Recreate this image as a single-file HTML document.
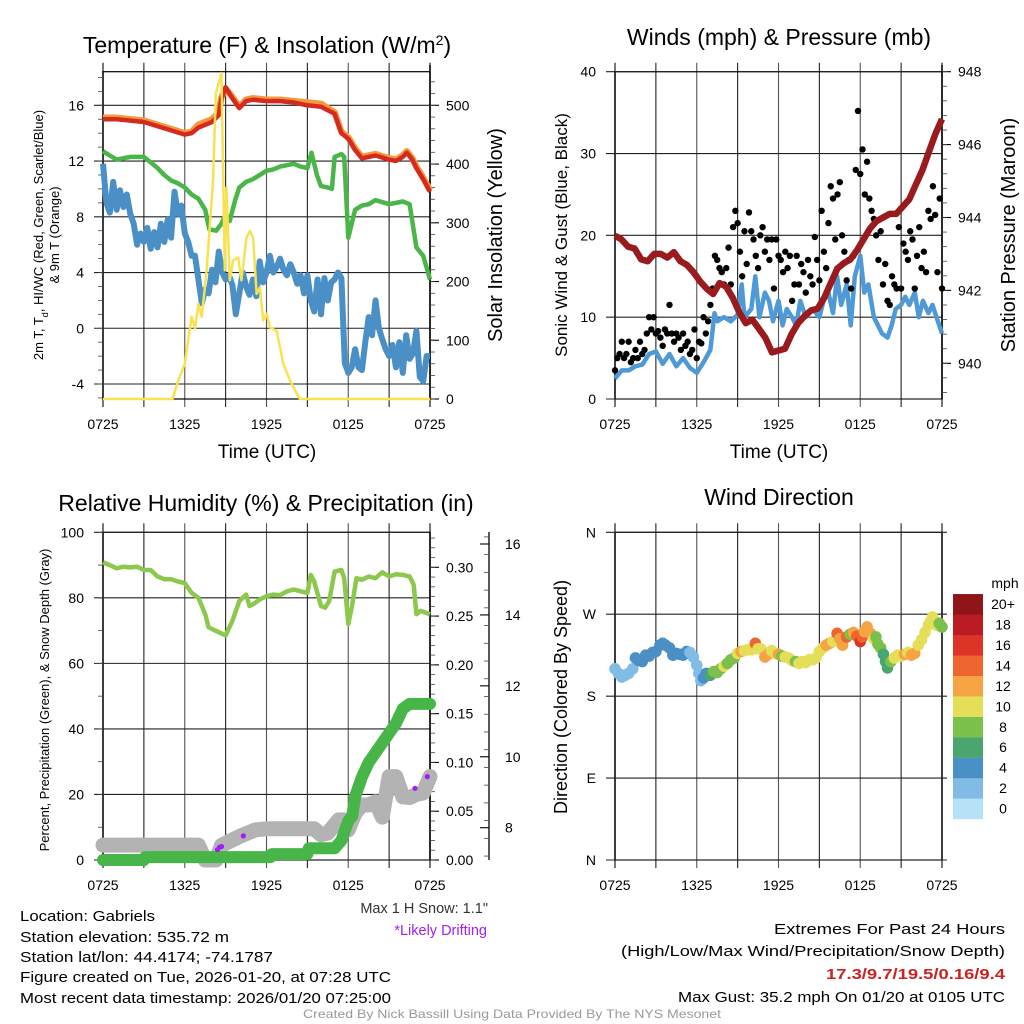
<!DOCTYPE html>
<html><head><meta charset="utf-8"><title>Gabriels Mesonet Meteogram</title>
<style>
html,body{margin:0;padding:0;background:#fff;}
svg{display:block;font-family:"Liberation Sans",sans-serif;}
</style></head>
<body>
<svg id="chart" width="1024" height="1024" viewBox="0 0 1024 1024" xmlns="http://www.w3.org/2000/svg">
<rect x="0" y="0" width="1024" height="1024" fill="#fff"/>
<text x="267" y="53" font-size="23" text-anchor="middle">Temperature (F) &amp; Insolation (W/m<tspan baseline-shift="super" font-size="14">2</tspan>)</text>
<text x="779" y="45" font-size="23" text-anchor="middle">Winds (mph) &amp; Pressure (mb)</text>
<text x="266" y="511" font-size="23" text-anchor="middle">Relative Humidity (%) &amp; Precipitation (in)</text>
<text x="779" y="505" font-size="23" text-anchor="middle">Wind Direction</text>
<text x="267" y="458" font-size="19" text-anchor="middle">Time (UTC)</text>
<text x="779" y="458" font-size="19" text-anchor="middle">Time (UTC)</text>
<text transform="translate(43,235) rotate(-90)" font-size="13" text-anchor="middle">2m T, T<tspan baseline-shift="sub" font-size="9">d</tspan>, HI/WC (Red, Green, Scarlet/Blue)</text>
<text transform="translate(59,235) rotate(-90)" font-size="13" text-anchor="middle">&amp; 9m T (Orange)</text>
<text transform="translate(502,235) rotate(-90)" font-size="20" text-anchor="middle">Solar Insolation (Yellow)</text>
<text transform="translate(567,235) rotate(-90)" font-size="17" text-anchor="middle">Sonic Wind &amp; Gust (Blue, Black)</text>
<text transform="translate(1015,235) rotate(-90)" font-size="20" text-anchor="middle">Station Pressure (Maroon)</text>
<text transform="translate(49,700) rotate(-90)" font-size="13" text-anchor="middle">Percent, Precipitation (Green), &amp; Snow Depth (Gray)</text>
<text transform="translate(567,697) rotate(-90)" font-size="18" text-anchor="middle">Direction (Colored By Speed)</text>
<text x="1005" y="588" font-size="14" text-anchor="middle">mph</text>
<text x="488" y="913" font-size="14.5" fill="#333" text-anchor="end">Max 1 H Snow: 1.1"</text>
<text x="487" y="935" font-size="14.5" fill="#a020f0" text-anchor="end">*Likely Drifting</text>
<text x="20" y="921" font-size="15" textLength="135" lengthAdjust="spacingAndGlyphs">Location: Gabriels</text>
<text x="20" y="942" font-size="15" textLength="209" lengthAdjust="spacingAndGlyphs">Station elevation: 535.72 m</text>
<text x="20" y="962" font-size="15" textLength="253" lengthAdjust="spacingAndGlyphs">Station lat/lon: 44.4174; -74.1787</text>
<text x="20" y="982" font-size="15" textLength="371" lengthAdjust="spacingAndGlyphs">Figure created on Tue, 2026-01-20, at 07:28 UTC</text>
<text x="20" y="1003" font-size="15" textLength="371" lengthAdjust="spacingAndGlyphs">Most recent data timestamp: 2026/01/20 07:25:00</text>
<text x="1005" y="934" font-size="15" text-anchor="end" textLength="231" lengthAdjust="spacingAndGlyphs">Extremes For Past 24 Hours</text>
<text x="1005" y="956" font-size="15" text-anchor="end" textLength="384" lengthAdjust="spacingAndGlyphs">(High/Low/Max Wind/Precipitation/Snow Depth)</text>
<text x="1005" y="979" font-size="15" font-weight="bold" fill="#cc2222" text-anchor="end" textLength="179" lengthAdjust="spacingAndGlyphs">17.3/9.7/19.5/0.16/9.4</text>
<text x="1005" y="1002" font-size="15" text-anchor="end" textLength="327" lengthAdjust="spacingAndGlyphs">Max Gust: 35.2 mph On 01/20 at 0105 UTC</text>
<text x="512" y="1018" font-size="12" fill="#999" text-anchor="middle" textLength="418" lengthAdjust="spacingAndGlyphs">Created By Nick Bassill Using Data Provided By The NYS Mesonet</text>
</svg>
<script>
// ---------- data ----------
const timeLabels = ['0725','1325','1925','0125','0725'];
const timeLabelHours = [0,6,12,18,24];
const tempHours = [0,1,2,3,4,5,6,6.5,7,8,8.5,8.7,9,9.5,10,10.5,11,12,13,14,15,16,17,17.5,18,18.5,19,20,21,21.5,22,22.3,22.7,23,23.5,24];
const temp2m = [15.0,15.0,14.9,14.8,14.5,14.2,13.9,14.0,14.4,14.8,15.3,16.5,17.3,16.5,15.8,16.3,16.4,16.3,16.3,16.2,16.0,15.9,15.4,14.0,13.6,12.8,12.2,12.4,12.1,12.0,12.3,12.6,12.1,11.5,10.7,9.8];
const temp9m = [15.1,15.1,15.0,14.9,14.6,14.3,14.0,14.1,14.6,15.0,15.5,16.6,17.2,16.6,15.9,16.4,16.5,16.4,16.4,16.3,16.2,16.1,15.5,14.1,13.7,12.9,12.3,12.5,12.2,12.1,12.4,12.7,12.2,11.6,10.8,9.9];
const dewHours = [0,0.5,1,2,3,3.5,4,4.5,5,5.5,6,6.5,7,7.5,7.8,8.3,8.7,9,9.3,9.7,10,10.5,11,12,12.5,13,14,14.5,15,15.3,15.7,16,16.5,16.8,17,17.5,17.7,18,18.5,19,19.5,20,21,22,22.5,23,23.5,24];
const dewPoint = [12.7,12.4,12.1,12.3,12.3,11.9,11.5,11.0,10.6,10.4,10.1,9.6,9.3,8.5,7.1,7.0,7.5,8.2,7.7,9.2,10.1,10.5,10.7,11.3,11.4,11.6,11.8,11.6,11.5,12.6,11.0,10.2,10.1,10.0,12.3,12.5,12.3,6.5,8.5,8.8,8.9,9.2,8.9,9.1,8.9,5.8,5.2,3.5];
const windChill = [11.8,9,8.3,10.5,8.5,9.9,8.7,9.6,8.2,7.5,6.0,6.8,6.2,7.2,5.7,6.9,5.8,7.5,6.2,7.8,6.5,9.8,8.2,8.8,6.8,6.2,5.2,5.2,3.5,1.8,2.8,2.5,4.2,3.3,5.5,4.0,3.5,3.8,3.1,1.0,2.5,4.0,3.0,2.4,3.5,2.3,4.8,3.3,4.0,5.2,4.0,4.4,5.0,4.2,3.8,4.6,4.0,3.2,3.8,2.5,3.8,2.0,1.2,3.5,1.0,3.6,2.0,3.3,3.5,4.0,3.6,-2.5,-3.2,-2.8,-1.5,-2.8,-3.0,-1.0,0.8,-0.5,2.0,0.0,-0.8,-1.5,-2.0,-1.2,-2.8,-1.0,-3.2,-0.5,-2.2,-1.8,-0.2,-3.5,-3.8,-2.0,-2.0];
const solarHours = [0,5.1,5.5,6,6.25,6.5,6.75,7,7.25,7.6,8.08,8.28,8.69,8.94,9.06,9.31,9.55,9.92,10.16,10.53,10.78,11.02,11.27,11.51,11.76,12.0,12.25,12.74,12.98,13.23,13.72,14.2,14.45,24];
const solar = [0,0,30,60,100,140,120,162,140,219,372,520,555,219,360,202,236,241,202,275,286,275,179,190,134,145,122,116,89,60,32,10,0,0];
const windHours = [0,0.5,1,1.5,2,2.5,3,3.5,4,4.5,5,5.5,6,6.5,7,7.3,7.5,8,8.5,9,9.3,9.5,10,10.3,10.6,11,11.3,11.6,12,12.3,12.6,13,13.3,13.6,14,14.5,15,15.3,15.6,16,16.3,16.6,17,17.3,17.6,18,18.3,18.6,19,19.3,19.6,20,20.3,20.6,21,21.3,21.6,22,22.3,22.6,23,23.3,23.6,24];
const windSpeed = [2.5,3.5,3.5,4.0,4.2,5.5,5.8,4.3,5.5,4.0,5.0,3.8,3.2,4.5,6.0,10.5,9.5,10.0,9.5,10.3,14,10,11,15,10,13,12,9.5,12,9,11,10,9,12,10,11,10,12,13.5,10.5,15,11.5,14,9,15,17.5,13,14,10,9,8,7.5,9,11,11.5,12.5,11.5,13,10,12,10.5,11.5,10,8];
const gusts = [3.5,5,5.5,7,5,5.5, 7,4.5,5,6,5,7, 5.5,6,8,10,8.5,10, 8,8.3,7.5,6.5,8.5,8, 11.5,8,7,8,7.5,6, 8,6.5,7,5.5,6,8.5, 5,7,6.8,10,8,9.5, 11.5,13.5,17.5,17,16,15.5, 14,16,18.5,14,21,23, 21.5,18,15,20.5,16.5,22.8, 20.5,19.5,17.5,16,20,21, 18,19.5,17,19.5,13.5,19.5, 17.5,17,15.5,18,16,17.5, 12,14,17.5,14,16.5,15.5, 13,17,15,14,19.8,17, 14.5,23,18,16,21.5,26, 24.5,19.5,25,26.5,20,18, 14.5,17,13.5,17.5,28,35.2, 27.5,30.5,25,29,24.5,23, 22,20,17,20.5,14,16.5, 12,11.5,15,14,13.5,21, 13.5,19,18,17,20.5,19.5, 13.5,17.5,21,16,18,15.5, 23,22,26,22.5,15.5,24.5,13.5];
const pressure = [943.5,943.4,943.2,943.15,942.85,942.8,943.0,943.0,942.9,943.05,942.8,942.7,942.5,942.25,942.05,941.9,942.2,942.1,941.8,941.4,941.1,941.2,940.95,940.7,940.3,940.35,940.4,940.8,941.1,941.3,941.45,941.5,941.8,942.2,942.6,942.75,942.85,943.1,943.4,943.7,943.9,944.0,944.1,944.1,944.3,944.5,944.9,945.3,945.8,946.3,946.7];
const rhHours = [0,0.5,1,1.5,2,2.5,3,3.5,4,4.5,5,5.5,6,6.5,7,7.5,7.75,8,8.5,9,9.5,10,10.5,10.75,11,11.5,12,12.5,13,13.5,14,14.5,15,15.25,15.5,16,16.3,16.6,17,17.5,17.7,18,18.3,18.6,19,19.5,20,20.5,21,21.5,22,22.5,22.8,23,23.3,24];
const rh = [90.8,90,89,89.5,89.3,89.5,88.5,88.5,86.5,85.7,85.7,85,84.5,81.5,80,75,71,70.5,69.5,68.5,73,79,81,77.5,78,79.5,80.5,81,80.8,82,82.5,82,81.5,87,85,77.5,77,79,88,88.5,86,72,78,86,85.5,86.5,86,87.8,86.5,87.2,87,86.5,84,75,76,75];
const precipHours = [0,3,3.1,12.3,12.4,15,15.1,17,17.5,18,18.3,18.5,19,19.5,20,20.5,21,21.5,22,22.5,24];
const precip = [0,0,0.003,0.003,0.006,0.006,0.012,0.012,0.02,0.04,0.045,0.065,0.085,0.1,0.11,0.12,0.13,0.14,0.155,0.16,0.16];
const snowHours = [0,7,7.5,8.3,8.7,10,11.2,12,15.5,16,16.5,17.3,17.7,18,18.5,19,19.5,20,20.5,21,21.5,22,22.5,23,23.5,24];
const snowDepth = [7.51,7.51,7.09,7.09,7.5,7.75,7.94,7.97,7.97,7.8,7.85,8.22,8.22,7.94,8.41,8.64,8.64,8.73,8.3,9.44,9.44,8.87,8.85,8.94,8.98,9.44];
const driftHours = [8.4,8.55,8.7,10.3,22.9,23.8];
const driftDepth = [7.38,7.45,7.47,7.77,9.11,9.44];
const dirHours = [0,0.25,0.5,0.75,1,1.3,1.5,1.75,2,2.25,2.5,2.75,3,3.3,3.5,3.7,4,4.25,4.5,4.75,5,5.25,5.5,5.75,6,6.15,6.3,6.5,6.7,7,7.25,7.5,7.75,8,8.25,8.5,8.75,9,9.25,9.5,9.75,10,10.3,10.5,10.7,11,11.25,11.5,11.75,12,12.25,12.5,12.75,13,13.25,13.5,13.75,14,14.25,14.5,14.75,15,15.25,15.5,15.75,16,16.3,16.5,16.7,17,17.25,17.5,17.75,18,18.15,18.3,18.5,18.75,19,19.15,19.3,19.5,19.7,19.85,20,20.25,20.5,20.75,21,21.25,21.5,21.75,22,22.25,22.5,22.75,23,23.15,23.3,23.5,23.6,23.8,24];
const direction = [210,205,201,203,205,210,222,219,218,225,224,228,229,236,238,236,233,225,227,226,225,229,228,223,214,205,197,200,205,203,207,206,210,213,216,220,222,227,229,230,231,231,238,232,232,223,226,230,227,226,224,223,222,219,218,216,218,217,220,220,222,229,233,236,238,240,249,243,236,245,248,250,246,240,245,251,256,249,243,245,237,233,226,218,211,218,222,225,224,226,228,225,227,236,242,250,258,262,267,262,258,260,256];
const cbLabels = ['0','2','4','6','8','10','12','14','16','18','20+'];
const cbColors = ['#b5e2f7','#80bce6','#4a8fc6','#4aa56e','#7ac04b','#e4de59','#f6a443','#ef6530','#dd3428','#bb1b22','#8f1518'];

// ---------- helpers ----------
const NS = 'http://www.w3.org/2000/svg';
const svg = document.getElementById('chart');
function mk(tag, attrs, parent){const e=document.createElementNS(NS,tag);for(const k in attrs)e.setAttribute(k,attrs[k]);(parent||svg).appendChild(e);return e;}
function lin(d0,d1,r0,r1){return v=>r0+(v-d0)/(d1-d0)*(r1-r0);}
function steps(n,step){const a=[];for(let i=0;i<n;i++)a.push(i*step);return a;}
function pts(xs,ys,sx,sy){const n=Math.min(xs.length,ys.length);const o=[];for(let i=0;i<n;i++)o.push(sx(xs[i]).toFixed(1)+','+sy(ys[i]).toFixed(1));return o.join(' ');}
function interp(xs,ys,t){if(t<=xs[0])return ys[0];for(let i=1;i<xs.length;i++){if(t<=xs[i]){const f=(t-xs[i-1])/(xs[i]-xs[i-1]);return ys[i-1]+f*(ys[i]-ys[i-1]);}}return ys[ys.length-1];}
function range(a,b,s){const r=[];for(let v=a;v<=b+1e-9;v+=s)r.push(+v.toFixed(4));return r;}

function frame(x0,x1,yt,yb,name){
  const g=mk('g',{});
  
  
  for(let h=0;h<=24;h+=3){
    const x=x0+h/24*(x1-x0);
    const l=mk('line',{x1:x,x2:x,y1:yt-9,y2:yb+8,stroke:(h%6===0?'#555':'#222'),'stroke-width':(h===0||h===24)?1.6:1.1},g);
    
    
  }
  const r=mk('rect',{x:x0,y:yt,width:x1-x0,height:yb-yt,fill:'none',stroke:'#000','stroke-width':1.2},g);
  
  
  timeLabelHours.forEach((h,i)=>{
    const t=mk('text',{x:x0+h/24*(x1-x0),y:yb+30,'font-size':14,'text-anchor':'middle'},g);
    t.textContent=timeLabels[i];
    
    
  });
  return g;
}
function leftAxis(x0,x1,sy,majors,labels,minors,name,grid){
  majors.forEach((v,i)=>{
    const y=sy(v);
    if(grid){const l=mk('line',{x1:x0-9,x2:x1,y1:y,y2:y,stroke:'#222','stroke-width':1.1});
      
      }
    const t=mk('text',{x:x0-19,y:y+5,'font-size':14,'text-anchor':'end'});
    t.textContent=labels[i];
    
    
  });
  minors.forEach(v=>{const y=sy(v);const l=mk('line',{x1:x0-5,x2:x0,y1:y,y2:y,stroke:'#444','stroke-width':0.8});
    
    });
}
function rightAxis(ax,sy,majors,labels,minors,name,yt,yb,inward){
  const dir=inward?-1:1;
  const al=mk('line',{x1:ax,x2:ax,y1:yt,y2:yb,stroke:'#000','stroke-width':1.3});
  
  
  majors.forEach((v,i)=>{const y=sy(v);
    const l=mk('line',{x1:ax,x2:ax+dir*9,y1:y,y2:y,stroke:'#000','stroke-width':1.1});
    
    
    const t=mk('text',{x:ax+16,y:y+5,'font-size':14});
    t.textContent=labels[i];
    
    });
  minors.forEach(v=>{const y=sy(v);if(y<yt||y>yb)return;const l=mk('line',{x1:ax,x2:ax+dir*5,y1:y,y2:y,stroke:'#444','stroke-width':0.8});
    
    });
}

// ---------- panel 1: temperature ----------
const xT=lin(0,24,103,430), yTemp=lin(-4,16,384,105.3), ySol=lin(0,500,399,105.3);
frame(103,430,71.7,399,'temp');
leftAxis(103,430,yTemp,[-4,0,4,8,12,16],['-4','0','4','8','12','16'],range(-5,18,1),'temp',true);
rightAxis(430,ySol,[0,100,200,300,400,500],['0','100','200','300','400','500'],range(0,540,20),'insolation',65,399,false);
let p;
p=mk('polyline',{points:pts(steps(windChill.length,0.25),windChill,xT,yTemp),fill:'none',stroke:'#4a8fc6','stroke-width':6,'stroke-linejoin':'round'});


p=mk('polyline',{points:pts(dewHours,dewPoint,xT,yTemp),fill:'none',stroke:'#4ab548','stroke-width':4.5,'stroke-linejoin':'round'});


p=mk('polyline',{points:pts(tempHours,temp9m,xT,yTemp),fill:'none',stroke:'#f59a3c','stroke-width':6.5,'stroke-linejoin':'round'});


p=mk('polyline',{points:pts(tempHours,temp2m,xT,yTemp),fill:'none',stroke:'#d42a22','stroke-width':4.5,'stroke-linejoin':'round'});


p=mk('polyline',{points:pts(solarHours,solar,xT,ySol),fill:'none',stroke:'#f7e251','stroke-width':2.5,'stroke-linejoin':'round'});



// ---------- panel 2: winds ----------
const xW=lin(0,24,615,942), ySpd=lin(0,40,399,71.7), yP=lin(940,948,363.3,71.7);
frame(615,942,71.7,399,'wind');
leftAxis(615,942,ySpd,[0,10,20,30,40],['0','10','20','30','40'],[],'wind',true);
rightAxis(942,yP,[940,942,944,946,948],['940','942','944','946','948'],range(939.2,948,0.4),'pressure',65,399,false);
p=mk('polyline',{points:pts(windHours,windSpeed,xW,ySpd),fill:'none',stroke:'#4f9ad6','stroke-width':4.5,'stroke-linejoin':'round'});


const gustHours=steps(gusts.length,1/6);
gusts.forEach((g,i)=>{
  const c=mk('circle',{cx:xW(gustHours[i]),cy:ySpd(g),r:3.2,fill:'#000'});
  
  
});
p=mk('polyline',{points:pts(steps(pressure.length,0.48),pressure,xW,yP),fill:'none',stroke:'#9a1b1e','stroke-width':6.5,'stroke-linejoin':'round'});



// ---------- panel 3: humidity ----------
const xH=lin(0,24,103,430), yRH=lin(0,100,860,532.3), yPr=lin(0,0.30,860,567.3), ySnow=lin(8,16,827.7,544);
frame(103,430,532.3,860,'rh');
leftAxis(103,430,yRH,[0,20,40,60,80,100],['0','20','40','60','80','100'],range(0,100,10),'rh',true);
rightAxis(430,yPr,[0,0.05,0.10,0.15,0.20,0.25,0.30],['0.00','0.05','0.10','0.15','0.20','0.25','0.30'],range(0,0.33,0.01),'precip',532,860,false);
rightAxis(489,ySnow,[8,10,12,14,16],['8','10','12','14','16'],range(7.2,16.5,0.5),'snow-depth',532,860,true);
p=mk('polyline',{points:pts(snowHours,snowDepth,xH,ySnow),fill:'none',stroke:'#b3b3b3','stroke-width':15,'stroke-linejoin':'round','stroke-linecap':'round'});


p=mk('polyline',{points:pts(precipHours,precip,xH,yPr),fill:'none',stroke:'#48b548','stroke-width':12,'stroke-linejoin':'round','stroke-linecap':'round'});


driftHours.forEach((h,i)=>{
  const c=mk('circle',{cx:xH(h),cy:ySnow(driftDepth[i]),r:2.6,fill:'#a020f0'});
  
  
});
p=mk('polyline',{points:pts(rhHours,rh,xH,yRH),fill:'none',stroke:'#8cc84b','stroke-width':4.5,'stroke-linejoin':'round'});



// ---------- panel 4: direction ----------
const xD=lin(0,24,615,942), yDir=lin(0,360,860,532.3);
frame(615,942,532.3,860,'dir');
leftAxis(615,947,yDir,[0,90,180,270,360],['N','E','S','W','N'],[],'dir',true);
const nDir=Math.min(direction.length,dirHours.length);
for(let i=0;i<nDir;i++){
  const sp=interp(windHours,windSpeed,dirHours[i]);
  const bin=Math.max(0,Math.min(10,Math.floor(sp/2)));
  const c=mk('circle',{cx:xD(dirHours[i]),cy:yDir(direction[i]),r:5.8,fill:cbColors[bin]});
  
  
}
cbColors.forEach((col,i)=>{
  const y=819-(i+1)*20.45;
  const r=mk('rect',{x:953,y:y,width:30,height:20.6,fill:col});
  
  
  const t=mk('text',{x:1003,y:y+15,'font-size':14,'text-anchor':'middle'});
  t.textContent=cbLabels[i];
  
  
});
</script>
</body></html>
